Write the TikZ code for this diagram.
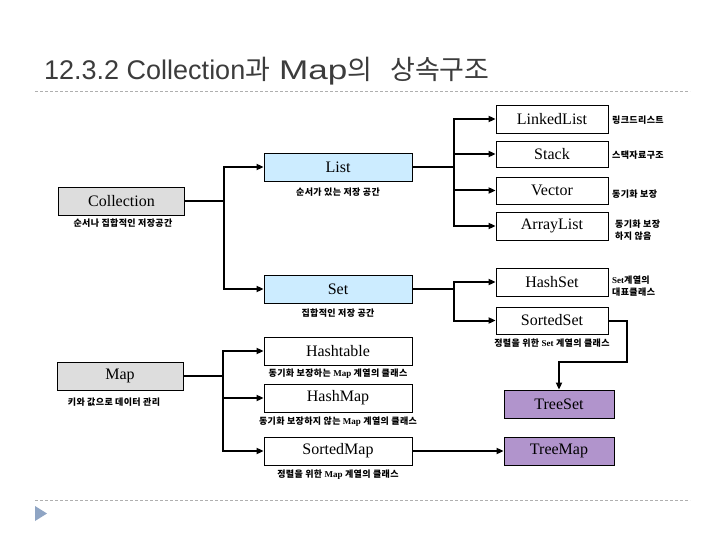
\documentclass[tikz,border=0pt]{standalone}
\usepackage{fontspec}
\setmainfont{Liberation Serif}
\newfontfamily\kr{Noto Sans CJK KR}[LetterSpace=4]
\newfontfamily\krt{Noto Sans CJK KR}
\newfontfamily\sansf{Liberation Sans}
\usetikzlibrary{arrows.meta}
\definecolor{grayfill}{RGB}{221,221,221}
\definecolor{bluefill}{RGB}{204,236,255}
\definecolor{purplefill}{RGB}{177,148,204}
\definecolor{titlegray}{RGB}{60,60,60}
\definecolor{rulegray}{RGB}{175,175,175}
\definecolor{trifill}{RGB}{143,165,196}
\newcommand{\en}[1]{{\rmfamily\bfseries #1}}
\begin{document}
\begin{tikzpicture}[x=1pt,y=-1pt,
  box/.style={draw=black, line width=0.8pt, minimum height=28pt, inner sep=0pt,
    font=\fontsize{16}{16}\selectfont},
  root/.style={box, fill=grayfill, minimum width=126pt},
  mid/.style={box, minimum width=148pt},
  leaf/.style={box, minimum width=112pt},
  tree/.style={box, fill=purplefill, minimum width=110pt},
  lbl/.style={inner sep=0pt, font=\kr\bfseries\fontsize{9}{12}\selectfont},
  rlbl/.style={lbl, anchor=west, align=left},
  conn/.style={line width=2pt},
  arr/.style={-{Triangle[length=7pt,width=6pt]}},
  rule/.style={draw=rulegray, line width=0.8pt, dash pattern=on 3pt off 2pt}
]
\useasboundingbox (0,0) rectangle (720,540);
\fill[white] (0,0) rectangle (720,540);

% title
\node[anchor=base west, text=titlegray, inner sep=0pt] (title) at (44,80)
  {\fontsize{27}{27}\selectfont\sansf 12.3.2 Collection{\krt 과}\hspace{9pt}\scalebox{1.3}[1]{Map}{\krt 의}\hspace{18pt}{\krt 상속구조}};
\coordinate (r1a) at (35,91);
\coordinate (r1b) at (690,91);
\draw[rule] (r1a) -- (r1b);
\coordinate (r2a) at (35,500);
\coordinate (r2b) at (690,500);
\draw[rule] (r2a) -- (r2b);
\fill[trifill] (35,506) -- (47,513.5) -- (35,521) -- cycle;

% roots
\node[root] (coll) at (121.5,201) {Collection};
\node[lbl] (colllbl) at (123,223) {순서나 집합적인 저장공간};
\node[root] (map) at (120,376) {Map};
\node[lbl] (maplbl) at (114,402) {키와 값으로 데이터 관리};

% middle
\node[mid, fill=bluefill] (list) at (338,167) {List};
\node[lbl] (listlbl) at (338,192) {순서가 있는 저장 공간};
\node[mid, fill=bluefill] (set) at (338,289) {Set};
\node[lbl] (setlbl) at (338,313) {집합적인 저장 공간};
\node[mid] (htab) at (338,351) {Hashtable};
\node[lbl] (htablbl) at (338,374) {동기화 보장하는 \en{Map} 계열의 클래스};
\node[mid] (hmap) at (338,398) {HashMap};
\node[lbl] (hmaplbl) at (338,422) {동기화 보장하지 않는 \en{Map} 계열의 클래스};
\node[mid] (smap) at (338,451) {SortedMap};
\node[lbl] (smaplbl) at (338,475) {정렬을 위한 \en{Map} 계열의 클래스};

% leaves
\node[leaf] (llist) at (552,119) {LinkedList};
\node[rlbl] (llistlbl) at (612,120) {링크드리스트};
\node[leaf, minimum height=26pt] (stack) at (552,154) {Stack};
\node[rlbl] (stacklbl) at (612,155) {스택자료구조};
\node[leaf, minimum height=27pt] (vector) at (552,190.5) {Vector};
\node[rlbl] (vectorlbl) at (612,194) {동기화 보장};
\node[leaf] (alist) at (552,226) {ArrayList};
\node[rlbl] (alistlbl) at (615,230) {동기화 보장\\하지 않음};
\node[leaf] (hset) at (552,282) {HashSet};
\node[rlbl] (hsetlbl) at (612,286) {\en{Set}계열의\\대표클래스};
\node[leaf, minimum height=27pt] (sset) at (552,320.5) {SortedSet};
\node[lbl] (ssetlbl) at (552,343) {정렬을 위한 \en{Set} 계열의 클래스};

\node[tree] (tset) at (559,404) {TreeSet};
\node[tree] (tmap) at (559,451) {TreeMap};

% connectors: Collection
\coordinate (cj) at (224,201);
\draw[conn] (coll.east) -- (cj);
\draw[conn,arr] (cj) |- (list.west);
\draw[conn,arr] (cj) |- (set.west);

% List
\coordinate (lj) at (454,167);
\draw[conn] (list.east) -- (lj);
\draw[conn,arr] (lj) |- (llist.west);
\draw[conn,arr] (lj) |- (stack.west);
\draw[conn,arr] (lj) |- (vector.west);
\draw[conn,arr] (lj) |- (alist.west);

% Set
\coordinate (sj) at (454,289);
\draw[conn] (set.east) -- (sj);
\draw[conn,arr] (sj) |- (hset.west);
\draw[conn,arr] (sj) |- (sset.west);

% SortedSet -> TreeSet
\coordinate (ss1) at (627,362);
\draw[conn,arr] (sset.east) -| (ss1) -| (tset.north);

% Map
\coordinate (mj) at (223,376);
\draw[conn] (map.east) -- (mj);
\draw[conn,arr] (mj) |- (htab.west);
\draw[conn,arr] (mj) |- (hmap.west);
\draw[conn,arr] (mj) |- (smap.west);

% SortedMap -> TreeMap
\draw[conn,arr] (smap.east) -- (tmap.west);
\end{tikzpicture}
\end{document}
